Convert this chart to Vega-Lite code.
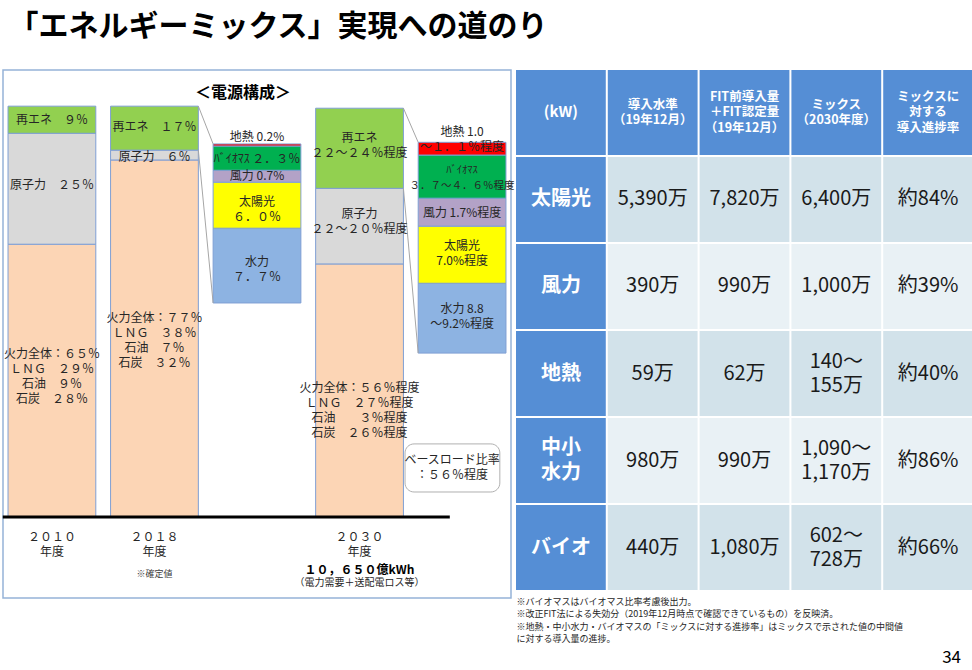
{
  "$schema": "https://vega.github.io/schema/vega-lite/v6.json",
  "padding": {"left": 0, "top": 12, "right": 0, "bottom": 0},
  "background": "white",
  "config": {"font": "Noto Sans CJK JP", "view": {"stroke": null}},
  "title": {"text": "「エネルギーミックス」実現への道のり", "anchor": "start", "font": "Noto Sans CJK JP", "fontSize": 30, "fontWeight": "bold", "color": "#000000", "dx": 8, "offset": 27},
  "spacing": 5,
  "bounds": "flush",
  "resolve": {"scale": {"color": "independent", "x": "independent", "y": "independent"}},
  "datasets": {
    "segments": [
      {"cat": "2010", "part": "火力", "y0": 0, "y1": 66.4},
      {"cat": "2010", "part": "原子力", "y0": 66.4, "y1": 93.4},
      {"cat": "2010", "part": "再エネ", "y0": 93.4, "y1": 100},
      {"cat": "2018", "part": "火力", "y0": 0, "y1": 86.9},
      {"cat": "2018", "part": "原子力", "y0": 86.9, "y1": 89.3},
      {"cat": "2018", "part": "再エネ", "y0": 89.3, "y1": 100},
      {"cat": "2018内訳", "part": "水力", "y0": 52.1, "y1": 70.3},
      {"cat": "2018内訳", "part": "太陽光", "y0": 70.3, "y1": 81.5},
      {"cat": "2018内訳", "part": "風力", "y0": 81.5, "y1": 84.4},
      {"cat": "2018内訳", "part": "バイオマス", "y0": 84.4, "y1": 90.3},
      {"cat": "2018内訳", "part": "地熱", "y0": 90.3, "y1": 90.8},
      {"cat": "2030", "part": "火力", "y0": 0, "y1": 61.6},
      {"cat": "2030", "part": "原子力", "y0": 61.6, "y1": 80.0},
      {"cat": "2030", "part": "再エネ", "y0": 80.0, "y1": 99.5},
      {"cat": "2030内訳", "part": "水力", "y0": 39.9, "y1": 56.9},
      {"cat": "2030内訳", "part": "太陽光", "y0": 56.9, "y1": 70.8},
      {"cat": "2030内訳", "part": "風力", "y0": 70.8, "y1": 77.6},
      {"cat": "2030内訳", "part": "バイオマス", "y0": 77.6, "y1": 88.1},
      {"cat": "2030内訳", "part": "地熱", "y0": 88.1, "y1": 91.2}
    ],
    "links": [
      {"from": "2018", "to": "2018内訳", "ya": 100, "yb": 90.8},
      {"from": "2018", "to": "2018内訳", "ya": 89.3, "yb": 52.1},
      {"from": "2030", "to": "2030内訳", "ya": 99.5, "yb": 91.2},
      {"from": "2030", "to": "2030内訳", "ya": 80.0, "yb": 39.9}
    ],
    "labels": [
      {"cat": "2010", "ly": 96.6, "label": "再エネ　９％", "kind": "seg"},
      {"cat": "2010", "ly": 80.8, "label": "原子力　２５％", "kind": "seg"},
      {"cat": "2010", "ly": 39.7, "label": "火力全体：６５％\nＬＮＧ　２９％\n石油　９％\n石炭　２８％", "kind": "seg"},
      {"cat": "2018", "ly": 94.9, "label": "再エネ　１７％", "kind": "seg"},
      {"cat": "2018", "ly": 87.6, "label": "原子力　６％", "kind": "seg"},
      {"cat": "2018", "ly": 48.4, "label": "火力全体：７７％\nＬＮＧ　３８％\n石油　７％\n石炭　３２％", "kind": "seg"},
      {"cat": "2018内訳", "ly": 92.6, "label": "地熱 0.2%", "kind": "seg"},
      {"cat": "2018内訳", "ly": 87.1, "label": "ﾊﾞｲｵﾏｽ ２．３％", "kind": "seg"},
      {"cat": "2018内訳", "ly": 83.0, "label": "風力 0.7%", "kind": "seg"},
      {"cat": "2018内訳", "ly": 76.6, "label": "太陽光\n６．０％", "kind": "seg"},
      {"cat": "2018内訳", "ly": 62.0, "label": "水力\n７．７％", "kind": "seg"},
      {"cat": "2030", "ly": 92.2, "label": "再エネ\n２２～２４％程度", "kind": "seg"},
      {"cat": "2030", "ly": 73.7, "label": "原子力\n２２～２０％程度", "kind": "seg"},
      {"cat": "2030", "ly": 31.4, "label": "火力全体：５６％程度\nＬＮＧ　２７％程度\n石油　　３％程度\n石炭　２６％程度", "kind": "seg"},
      {"cat": "2030内訳", "ly": 93.7, "label": "地熱 1.0\n～１．１％程度", "kind": "seg"},
      {"cat": "2030内訳", "ly": 84.4, "label": "ﾊﾞｲｵﾏｽ\n３．７～４．６％程度", "kind": "small"},
      {"cat": "2030内訳", "ly": 74.0, "label": "風力 1.7%程度", "kind": "seg"},
      {"cat": "2030内訳", "ly": 65.9, "label": "太陽光\n7.0%程度", "kind": "seg"},
      {"cat": "2030内訳", "ly": 50.6, "label": "水力 8.8\n～9.2%程度", "kind": "seg"},
      {"cat": "2030内訳", "ly": 13.9, "label": "ベースロード比率\n：５６％程度", "kind": "base"},
      {"cat": "2010", "ly": -4.9, "label": "２０１０\n年度", "kind": "seg"},
      {"cat": "2018", "ly": -4.9, "label": "２０１８\n年度", "kind": "seg"},
      {"cat": "2018", "ly": -13.9, "label": "※確定値", "kind": "note"},
      {"cat": "2030", "ly": -4.9, "label": "２０３０\n年度", "kind": "seg"},
      {"cat": "2030", "ly": -13.0, "label": "１０，６５０億kWh", "kind": "kwh"},
      {"cat": "2030", "ly": -16.0, "label": "（電力需要＋送配電ロス等）", "kind": "loss"},
      {"cat": "2018内訳", "ly": 103.2, "label": "＜電源構成＞", "kind": "head"}
    ],
    "table": [
      {"row": "r0", "col": "c1", "kind": "corner", "text": "(kW)"},
      {"row": "r0", "col": "c2", "kind": "head", "text": "導入水準\n（19年12月）"},
      {"row": "r0", "col": "c3", "kind": "head", "text": "FIT前導入量\n＋FIT認定量\n（19年12月）"},
      {"row": "r0", "col": "c4", "kind": "head", "text": "ミックス\n（2030年度）"},
      {"row": "r0", "col": "c5", "kind": "head", "text": "ミックスに\n対する\n導入進捗率"},
      {"row": "r1", "col": "c1", "kind": "label", "text": "太陽光"},
      {"row": "r1", "col": "c2", "kind": "odd", "text": "5,390万"},
      {"row": "r1", "col": "c3", "kind": "odd", "text": "7,820万"},
      {"row": "r1", "col": "c4", "kind": "odd", "text": "6,400万"},
      {"row": "r1", "col": "c5", "kind": "odd", "text": "約84%"},
      {"row": "r2", "col": "c1", "kind": "label", "text": "風力"},
      {"row": "r2", "col": "c2", "kind": "even", "text": "390万"},
      {"row": "r2", "col": "c3", "kind": "even", "text": "990万"},
      {"row": "r2", "col": "c4", "kind": "even", "text": "1,000万"},
      {"row": "r2", "col": "c5", "kind": "even", "text": "約39%"},
      {"row": "r3", "col": "c1", "kind": "label", "text": "地熱"},
      {"row": "r3", "col": "c2", "kind": "odd", "text": "59万"},
      {"row": "r3", "col": "c3", "kind": "odd", "text": "62万"},
      {"row": "r3", "col": "c4", "kind": "odd", "text": "140～\n155万"},
      {"row": "r3", "col": "c5", "kind": "odd", "text": "約40%"},
      {"row": "r4", "col": "c1", "kind": "label", "text": "中小\n水力"},
      {"row": "r4", "col": "c2", "kind": "even", "text": "980万"},
      {"row": "r4", "col": "c3", "kind": "even", "text": "990万"},
      {"row": "r4", "col": "c4", "kind": "even", "text": "1,090～\n1,170万"},
      {"row": "r4", "col": "c5", "kind": "even", "text": "約86%"},
      {"row": "r5", "col": "c1", "kind": "label", "text": "バイオ"},
      {"row": "r5", "col": "c2", "kind": "odd", "text": "440万"},
      {"row": "r5", "col": "c3", "kind": "odd", "text": "1,080万"},
      {"row": "r5", "col": "c4", "kind": "odd", "text": "602～\n728万"},
      {"row": "r5", "col": "c5", "kind": "odd", "text": "約66%"}
    ]
  },
  "hconcat": [
    {
      "width": 508,
      "height": 528,
      "view": {"stroke": "#95b3d7", "strokeWidth": 1.5},
      "layer": [
        {
          "data": {"name": "segments"},
          "mark": {"type": "bar", "stroke": "#7f9fd4", "strokeWidth": 1},
          "encoding": {
            "x": {"field": "cat", "type": "nominal", "axis": null, "scale": {"domain": ["2010", "2018", "2018内訳", "2030", "2030内訳"], "paddingInner": 0.144, "paddingOuter": 0.049}},
            "y": {"field": "y0", "type": "quantitative", "axis": null, "scale": {"domain": [-19.7, 108.8], "nice": false, "zero": false}},
            "y2": {"field": "y1"},
            "color": {"field": "part", "type": "nominal", "legend": null, "scale": {"domain": ["火力", "原子力", "再エネ", "水力", "太陽光", "風力", "バイオマス", "地熱"], "range": ["#fcd5b5", "#d9d9d9", "#92d050", "#8db3e2", "#ffff00", "#b3a2c7", "#00b050", "#ff0000"]}}
          }
        },
        {
          "data": {"name": "links"},
          "mark": {"type": "rule", "color": "#a6a6a6", "strokeWidth": 1},
          "encoding": {
            "x": {"field": "from", "type": "nominal", "bandPosition": 1, "axis": null, "scale": {"domain": ["2010", "2018", "2018内訳", "2030", "2030内訳"], "paddingInner": 0.144, "paddingOuter": 0.049}},
            "x2": {"field": "to", "bandPosition": 0},
            "y": {"field": "ya", "type": "quantitative", "axis": null, "scale": {"domain": [-19.7, 108.8], "nice": false, "zero": false}},
            "y2": {"field": "yb"}
          }
        },
        {
          "data": {"values": [{"from": "2010", "to": "2030内訳", "y": 0}]},
          "mark": {"type": "rule", "color": "#000000", "strokeWidth": 3},
          "encoding": {
            "x": {"field": "from", "type": "nominal", "bandPosition": -0.06, "axis": null, "scale": {"domain": ["2010", "2018", "2018内訳", "2030", "2030内訳"], "paddingInner": 0.144, "paddingOuter": 0.049}},
            "x2": {"field": "to", "bandPosition": 0.36},
            "y": {"field": "y", "type": "quantitative", "axis": null, "scale": {"domain": [-19.7, 108.8], "nice": false, "zero": false}}
          }
        },
        {
          "data": {"values": [{"cat": "2030内訳", "ya": 17.8, "yb": 6.1}]},
          "mark": {"type": "rect", "fillOpacity": 0, "stroke": "#b0b0b0", "strokeWidth": 1, "cornerRadius": 9},
          "encoding": {
            "x": {"field": "cat", "type": "nominal", "bandPosition": -0.15, "axis": null, "scale": {"domain": ["2010", "2018", "2018内訳", "2030", "2030内訳"], "paddingInner": 0.144, "paddingOuter": 0.049}},
            "x2": {"field": "cat", "bandPosition": 0.93},
            "y": {"field": "ya", "type": "quantitative", "axis": null, "scale": {"domain": [-19.7, 108.8], "nice": false, "zero": false}},
            "y2": {"field": "yb"}
          }
        },
        {
          "data": {"name": "labels"},
          "transform": [{"filter": "datum.kind == 'seg'"}],
          "mark": {"type": "text", "fontSize": 12, "lineHeight": 15, "lineBreak": "\n", "color": "#262626"},
          "encoding": {
            "x": {"field": "cat", "type": "nominal", "axis": null, "scale": {"domain": ["2010", "2018", "2018内訳", "2030", "2030内訳"], "paddingInner": 0.144, "paddingOuter": 0.049}},
            "y": {"field": "ly", "type": "quantitative", "axis": null, "scale": {"domain": [-19.7, 108.8], "nice": false, "zero": false}},
            "text": {"field": "label"}
          }
        },
        {
          "data": {"name": "labels"},
          "transform": [{"filter": "datum.kind == 'small'"}],
          "mark": {"type": "text", "fontSize": 10.5, "lineHeight": 16, "lineBreak": "\n", "color": "#262626"},
          "encoding": {
            "x": {"field": "cat", "type": "nominal", "axis": null, "scale": {"domain": ["2010", "2018", "2018内訳", "2030", "2030内訳"], "paddingInner": 0.144, "paddingOuter": 0.049}},
            "y": {"field": "ly", "type": "quantitative", "axis": null, "scale": {"domain": [-19.7, 108.8], "nice": false, "zero": false}},
            "text": {"field": "label"}
          }
        },
        {
          "data": {"name": "labels"},
          "transform": [{"filter": "datum.kind == 'base'"}],
          "mark": {"type": "text", "fontSize": 12, "lineHeight": 15, "lineBreak": "\n", "color": "#262626", "dx": -10},
          "encoding": {
            "x": {"field": "cat", "type": "nominal", "axis": null, "scale": {"domain": ["2010", "2018", "2018内訳", "2030", "2030内訳"], "paddingInner": 0.144, "paddingOuter": 0.049}},
            "y": {"field": "ly", "type": "quantitative", "axis": null, "scale": {"domain": [-19.7, 108.8], "nice": false, "zero": false}},
            "text": {"field": "label"}
          }
        },
        {
          "data": {"name": "labels"},
          "transform": [{"filter": "datum.kind == 'note'"}],
          "mark": {"type": "text", "fontSize": 9, "color": "#404040"},
          "encoding": {
            "x": {"field": "cat", "type": "nominal", "axis": null, "scale": {"domain": ["2010", "2018", "2018内訳", "2030", "2030内訳"], "paddingInner": 0.144, "paddingOuter": 0.049}},
            "y": {"field": "ly", "type": "quantitative", "axis": null, "scale": {"domain": [-19.7, 108.8], "nice": false, "zero": false}},
            "text": {"field": "label"}
          }
        },
        {
          "data": {"name": "labels"},
          "transform": [{"filter": "datum.kind == 'kwh'"}],
          "mark": {"type": "text", "fontSize": 12, "fontWeight": "bold", "color": "#000000"},
          "encoding": {
            "x": {"field": "cat", "type": "nominal", "axis": null, "scale": {"domain": ["2010", "2018", "2018内訳", "2030", "2030内訳"], "paddingInner": 0.144, "paddingOuter": 0.049}},
            "y": {"field": "ly", "type": "quantitative", "axis": null, "scale": {"domain": [-19.7, 108.8], "nice": false, "zero": false}},
            "text": {"field": "label"}
          }
        },
        {
          "data": {"name": "labels"},
          "transform": [{"filter": "datum.kind == 'loss'"}],
          "mark": {"type": "text", "fontSize": 10, "color": "#262626"},
          "encoding": {
            "x": {"field": "cat", "type": "nominal", "axis": null, "scale": {"domain": ["2010", "2018", "2018内訳", "2030", "2030内訳"], "paddingInner": 0.144, "paddingOuter": 0.049}},
            "y": {"field": "ly", "type": "quantitative", "axis": null, "scale": {"domain": [-19.7, 108.8], "nice": false, "zero": false}},
            "text": {"field": "label"}
          }
        },
        {
          "data": {"name": "labels"},
          "transform": [{"filter": "datum.kind == 'head'"}],
          "mark": {"type": "text", "fontSize": 16, "fontWeight": "bold", "color": "#000000", "dx": -14},
          "encoding": {
            "x": {"field": "cat", "type": "nominal", "axis": null, "scale": {"domain": ["2010", "2018", "2018内訳", "2030", "2030内訳"], "paddingInner": 0.144, "paddingOuter": 0.049}},
            "y": {"field": "ly", "type": "quantitative", "axis": null, "scale": {"domain": [-19.7, 108.8], "nice": false, "zero": false}},
            "text": {"field": "label"}
          }
        }
      ]
    },
    {
      "width": 457,
      "height": 520,
      "view": {"stroke": null},
      "data": {"name": "table"},
      "encoding": {
        "x": {"field": "col", "type": "nominal", "scale": {"domain": ["c1", "c2", "c3", "c4", "c5"], "paddingInner": 0.022, "paddingOuter": 0},
          "axis": {"title": ["※バイオマスはバイオマス比率考慮後出力。", "※改正FIT法による失効分（2019年12月時点で確認できているもの）を反映済。", "※地熱・中小水力・バイオマスの「ミックスに対する進捗率」はミックスで示された値の中間値", "　に対する導入量の進捗。"], "labels": false, "ticks": false, "domain": false, "grid": false, "titleAnchor": "start", "titleAlign": "left", "titleFontSize": 9, "titleFontWeight": "normal", "titlePadding": 7, "titleLineHeight": 12.5, "titleColor": "#262626", "titleFont": "Noto Sans CJK JP"}},
        "y": {"field": "row", "type": "nominal", "axis": null, "scale": {"domain": ["r0", "r1", "r2", "r3", "r4", "r5"], "paddingInner": 0.023, "paddingOuter": 0}}
      },
      "layer": [
        {
          "mark": {"type": "rect"},
          "encoding": {"color": {"field": "kind", "type": "nominal", "legend": null, "scale": {"domain": ["corner", "head", "label", "odd", "even"], "range": ["#558ed5", "#558ed5", "#558ed5", "#d2e2ea", "#e9f1f5"]}}}
        },
        {
          "transform": [{"filter": "datum.kind == 'corner'"}],
          "mark": {"type": "text", "color": "#ffffff", "fontWeight": "bold", "fontSize": 15},
          "encoding": {"text": {"field": "text"}}
        },
        {
          "transform": [{"filter": "datum.kind == 'head' && length(split(datum.text, '\\n')) == 2"}],
          "mark": {"type": "text", "color": "#ffffff", "fontWeight": "bold", "fontSize": 12.5, "lineHeight": 15.5, "lineBreak": "\n", "dy": -7.75},
          "encoding": {"text": {"field": "text"}}
        },
        {
          "transform": [{"filter": "datum.kind == 'head' && length(split(datum.text, '\\n')) == 3"}],
          "mark": {"type": "text", "color": "#ffffff", "fontWeight": "bold", "fontSize": 12.5, "lineHeight": 15.5, "lineBreak": "\n", "dy": -15.5},
          "encoding": {"text": {"field": "text"}}
        },
        {
          "transform": [{"filter": "datum.kind == 'label' && length(split(datum.text, '\\n')) == 1"}],
          "mark": {"type": "text", "color": "#ffffff", "fontWeight": "bold", "fontSize": 20},
          "encoding": {"text": {"field": "text"}}
        },
        {
          "transform": [{"filter": "datum.kind == 'label' && length(split(datum.text, '\\n')) == 2"}],
          "mark": {"type": "text", "color": "#ffffff", "fontWeight": "bold", "fontSize": 20, "lineHeight": 25, "lineBreak": "\n", "dy": -12.5},
          "encoding": {"text": {"field": "text"}}
        },
        {
          "transform": [{"filter": "(datum.kind == 'odd' || datum.kind == 'even') && length(split(datum.text, '\\n')) == 1"}],
          "mark": {"type": "text", "color": "#1a1a1a", "fontSize": 20},
          "encoding": {"text": {"field": "text"}}
        },
        {
          "transform": [{"filter": "(datum.kind == 'odd' || datum.kind == 'even') && length(split(datum.text, '\\n')) == 2"}],
          "mark": {"type": "text", "color": "#1a1a1a", "fontSize": 20, "lineHeight": 24, "lineBreak": "\n", "dy": -12},
          "encoding": {"text": {"field": "text"}}
        }
      ],
      "title": {"text": "34", "orient": "bottom", "anchor": "end", "fontSize": 17, "fontWeight": "normal", "color": "#000000", "offset": 6, "dx": -12, "font": "Noto Sans CJK JP"}
    }
  ]
}
